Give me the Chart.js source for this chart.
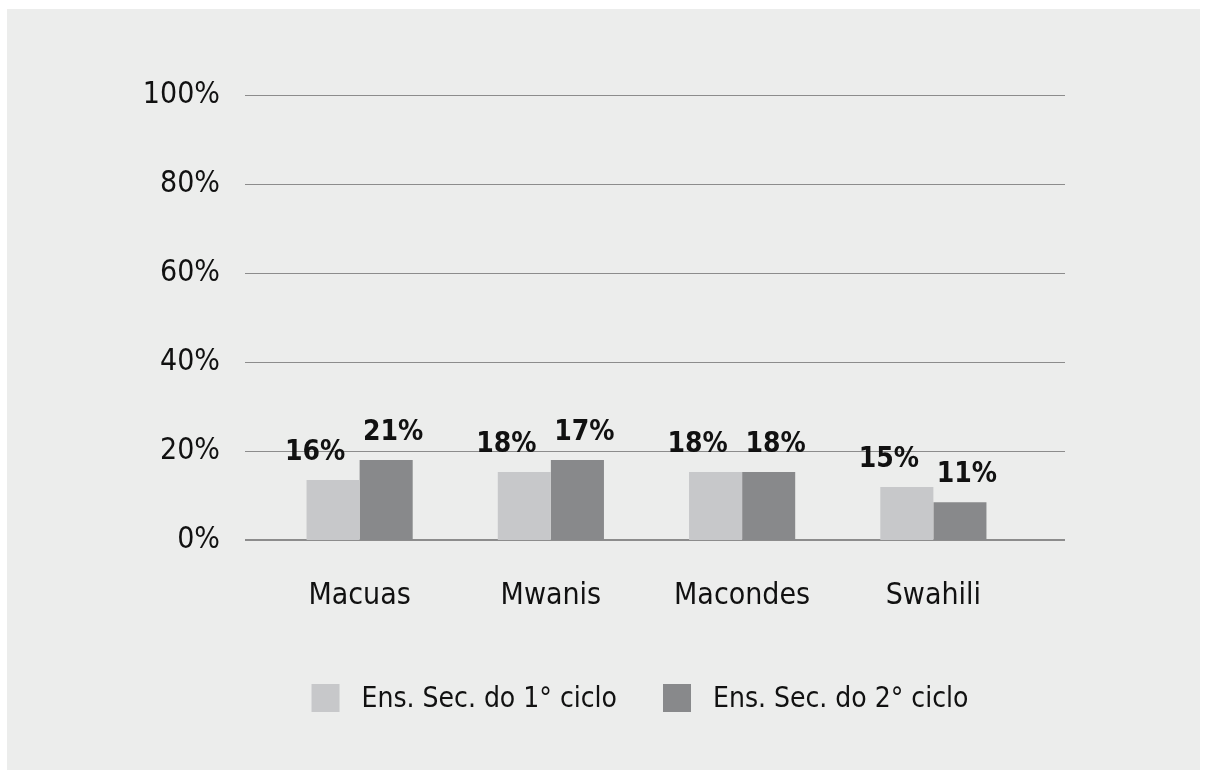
<!DOCTYPE html>
<html>
<head>
<meta charset="utf-8">
<script src="https://cdn.jsdelivr.net/npm/chart.js@4/dist/chart.umd.min.js"></script>
<style>
  html, body { margin: 0; padding: 0; background: #fff; }
  #panel { position: absolute; left: 7px; top: 9px; width: 1193px; height: 761px; background: #ecedec; }
  #wrap { position: absolute; left: 0; top: 0; width: 1206px; height: 774px; }
</style>
</head>
<body>
<div id="panel"></div>
<div id="wrap"><canvas id="chart" width="1206" height="774"></canvas></div>
<script>
// groups and the two series (bar heights as drawn, labels as printed)
const groups = ['Macuas', 'Mwanis', 'Macondes', 'Swahili'];
const ciclo1 = [13.5, 15.3, 15.3, 11.9];
const ciclo2 = [18, 18, 15.3, 8.5];
const ciclo1Labels = [16, 18, 18, 15];
const ciclo2Labels = [21, 17, 18, 11];
const seriesNames = ['Ens. Sec. do 1° ciclo', 'Ens. Sec. do 2° ciclo'];
const yTicks = [0, 20, 40, 60, 80, 100];

const FONT = "'Liberation Sans Narrow', 'DejaVu Sans Condensed', sans-serif";
const light = '#c7c8ca';
const dark = '#88898b';

// horizontal grid lines reach a bit past the bars
const gridPlugin = {
  id: 'grid',
  beforeDatasetsDraw(chart) {
    const ctx = chart.ctx, y = chart.scales.y;
    ctx.save();
    yTicks.forEach(v => {
      const py = Math.round(y.getPixelForValue(v));
      ctx.strokeStyle = '#8c8c8c';
      ctx.lineWidth = v === 0 ? 2 : 1;
      ctx.beginPath();
      ctx.moveTo(245, py + (v === 0 ? 0 : 0.5));
      ctx.lineTo(1065, py + (v === 0 ? 0 : 0.5));
      ctx.stroke();
    });
    ctx.restore();
  }
};

const valueLabels = {
  id: 'valueLabels',
  afterDatasetsDraw(chart) {
    const ctx = chart.ctx;
    const texts = [ciclo1Labels, ciclo2Labels];
    const shift = [-18, 7];
    ctx.save();
    ctx.font = 'bold 28px ' + FONT;
    ctx.fillStyle = '#111';
    ctx.textAlign = 'center';
    ctx.textBaseline = 'alphabetic';
    chart.data.datasets.forEach((ds, i) => {
      chart.getDatasetMeta(i).data.forEach((bar, j) => {
        ctx.fillText(texts[i][j] + '%', bar.x + shift[i], bar.y - 20);
      });
    });
    ctx.restore();
  }
};

const legendPlugin = {
  id: 'customLegend',
  afterDraw(chart) {
    const ctx = chart.ctx;
    ctx.save();
    ctx.font = '28px ' + FONT;
    const box = 28, gapText = 22, gapItem = 46;
    const widths = chart.data.datasets.map(d => ctx.measureText(d.label).width);
    const total = widths.reduce((a, w) => a + box + gapText + w, 0) + gapItem;
    let x = 640 - total / 2;
    const cy = 698;
    chart.data.datasets.forEach((d, i) => {
      ctx.fillStyle = d.backgroundColor;
      ctx.fillRect(x, cy - box / 2, box, box);
      ctx.fillStyle = '#111';
      ctx.textBaseline = 'middle';
      ctx.fillText(d.label, x + box + gapText, cy + 2);
      x += box + gapText + widths[i] + gapItem;
    });
    ctx.restore();
  }
};

new Chart(document.getElementById('chart'), {
  type: 'bar',
  data: {
    labels: groups,
    datasets: [
      { label: seriesNames[0], data: ciclo1, backgroundColor: light, barPercentage: 1, categoryPercentage: 0.555 },
      { label: seriesNames[1], data: ciclo2, backgroundColor: dark, barPercentage: 1, categoryPercentage: 0.555 }
    ]
  },
  options: {
    responsive: false,
    animation: false,
    layout: { padding: { top: 95, right: 177, bottom: 0, left: 0 } },
    plugins: { legend: { display: false }, tooltip: { enabled: false } },
    scales: {
      x: {
        grid: { display: false, drawTicks: false },
        border: { display: false },
        ticks: { color: '#111', font: { family: FONT, size: 30 }, padding: 38 },
        afterFit(s) { s.height = 234; }
      },
      y: {
        min: 0, max: 100,
        grid: { display: false, drawTicks: false },
        border: { display: false },
        ticks: { stepSize: 20, color: '#111', font: { family: FONT, size: 30 }, padding: 44, callback: v => v + '%' },
        afterFit(s) { s.width = 264; }
      }
    }
  },
  plugins: [gridPlugin, valueLabels, legendPlugin]
});
</script>
</body>
</html>
